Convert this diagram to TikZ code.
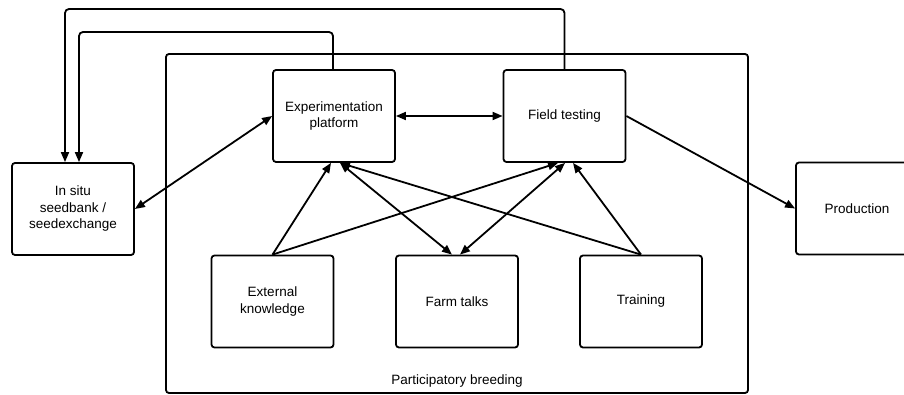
\documentclass[tikz,border=0pt]{standalone}
\usepackage{fontspec}
\setmainfont{Liberation Sans}
\usetikzlibrary{arrows.meta,calc}
\tikzset{
 lbl/.style={font=\fontsize{13.5}{16.5}\selectfont},
 box/.style={draw, line width=1.8pt, rounded corners=3pt, minimum width=122pt, minimum height=92pt, align=center, inner sep=0pt, lbl},
 conn/.style={line width=1.8pt, -{Triangle[length=10pt,width=8pt]}},
 biconn/.style={line width=1.8pt, {Triangle[length=10pt,width=8pt]}-{Triangle[length=10pt,width=8pt]}},
}
\begin{document}
\begin{tikzpicture}[x=1pt,y=-1pt]
\useasboundingbox (0,0) rectangle (904,395);
\clip (0,0) rectangle (904,395);
\fill[white] (0,0) rectangle (904,395);
\node[draw, line width=1.8pt, rounded corners=3pt, minimum width=582pt, minimum height=339pt, inner sep=0pt] (pb) at (457,223.5) {};
\node[anchor=base, lbl, inner sep=0pt] (pblabel) at (457,384) {Participatory breeding};
\node[box] (insitu) at (73,209) {In situ\\seedbank /\\seedexchange};
\node[box] (exp) at (334,116) {Experimentation\\platform};
\node[box] (field) at (564.5,116) {Field testing};
\node[box] (prod) at (857,208.5) {Production};
\node[box] (ext) at (272.5,301.5) {External\\knowledge};
\node[box] (farm) at (457,301.5) {Farm talks};
\node[box] (train) at (641,301.5) {Training};
\coordinate (t1) at (0,9);
\coordinate (t2) at (0,32);
\coordinate (a1) at ([xshift=-8pt]insitu.north);
\coordinate (a2) at ([xshift=6pt]insitu.north);
\coordinate (e1) at ([xshift=-1pt]exp.north);
\draw[conn, rounded corners=4pt] (field.north) |- (a1 |- t1) -- (a1);
\draw[conn, rounded corners=4pt] (e1) |- (a2 |- t2) -- (a2);
\draw[biconn] (insitu.east) -- (exp.west);
\draw[biconn] (exp.east) -- (field.west);
\draw[conn] (field.east) -- (prod.west);
\draw[conn] (ext.north) -- ([xshift=-3pt]exp.south);
\draw[conn] (ext.north) -- ([xshift=-6.5pt]field.south);
\draw[biconn] ([xshift=6pt]exp.south) -- ([xshift=-5pt]farm.north);
\draw[biconn] ([xshift=0.5pt]field.south) -- ([xshift=3pt]farm.north);
\draw[conn] (train.north) -- ([xshift=6pt]exp.south);
\draw[conn] (train.north) -- ([xshift=8.5pt]field.south);
\end{tikzpicture}
\end{document}
